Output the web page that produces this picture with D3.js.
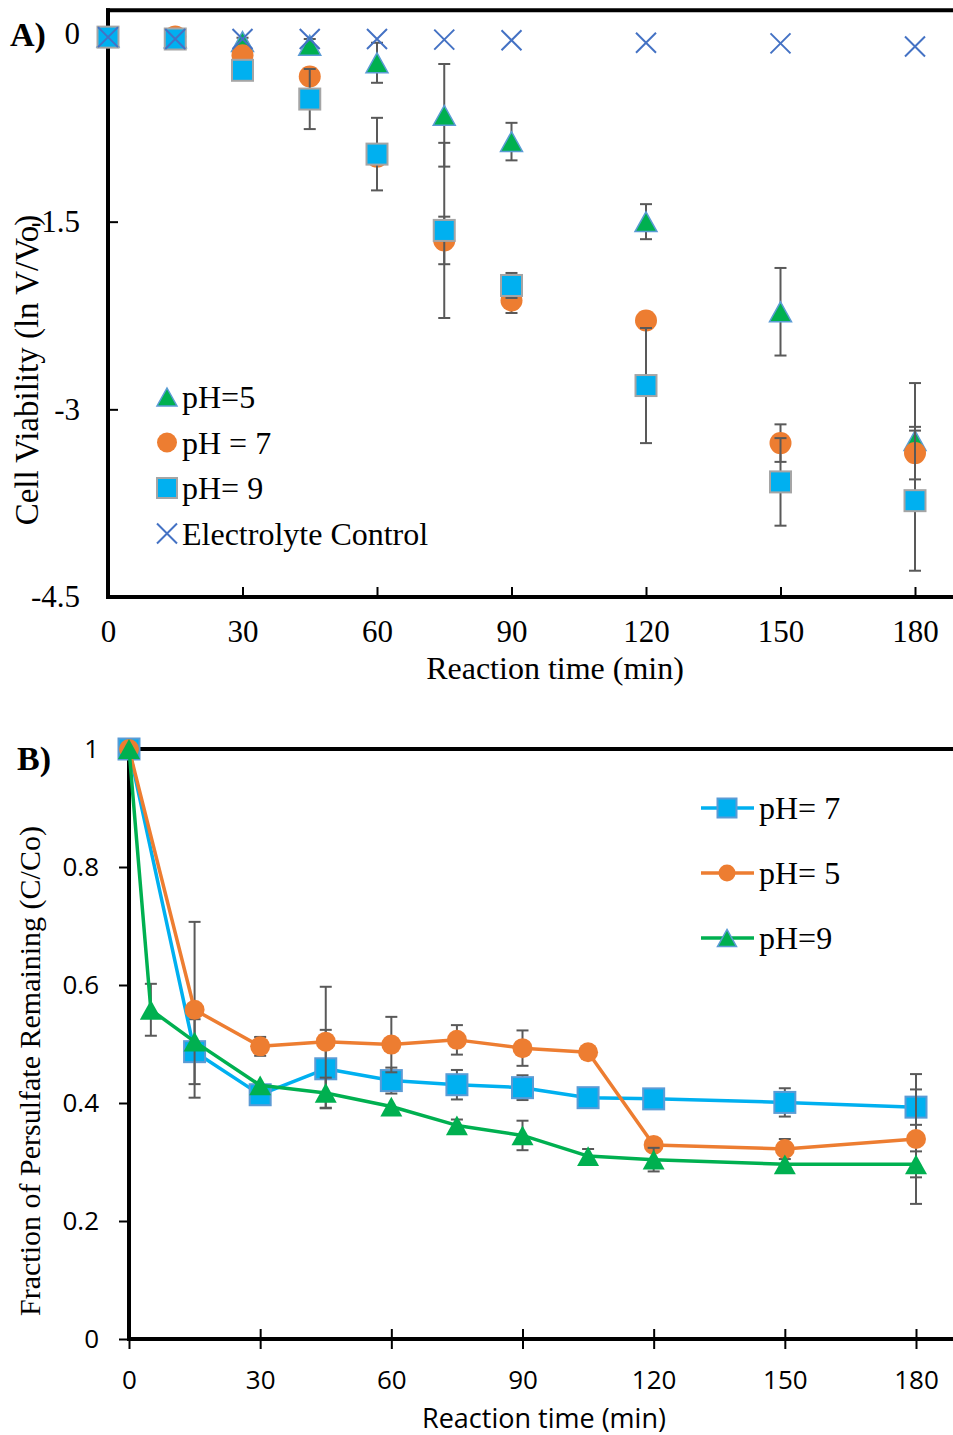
<!DOCTYPE html>
<html>
<head>
<meta charset="utf-8">
<script src="https://cdn.jsdelivr.net/npm/d3@7/dist/d3.min.js"></script>
<style>
  html, body { margin: 0; padding: 0; background: #fff; }
  svg { display: block; }
</style>
</head>
<body>
<svg id="chart" width="953" height="1435"></svg>
<script>
// ---------------- DATA: Panel A ----------------
const timesA = [0, 15, 30, 45, 60, 75, 90, 120, 150, 180];
const pH5A    = [-0.025, -0.03, -0.06, -0.09, -0.23, -0.65, -0.86, -1.50, -2.22, -3.25];
const pH5Aerr = [0, 0, 0.03, 0.05, 0.16, 0.41, 0.15, 0.14, 0.35, 0.46];
const pH7A    = [-0.025, -0.02, -0.17, -0.34, -0.98, -1.65, -2.13, -2.29, -3.27, -3.35];
const pH7Aerr = [0, 0, 0, 0, 0, 0.19, 0.10, 0, 0.15, 0.21];
const pH9A    = [-0.025, -0.04, -0.29, -0.52, -0.96, -1.57, -2.01, -2.81, -3.58, -3.73];
const pH9Aerr = [0, 0, 0, 0.24, 0.29, 0.70, 0.10, 0.46, 0.35, 0.56];
const ctrlA   = [-0.025, -0.04, -0.04, -0.04, -0.04, -0.045, -0.05, -0.07, -0.075, -0.10];
const yTicksA = [0, -1.5, -3, -4.5];
const xTicks  = [0, 30, 60, 90, 120, 150, 180];
const legendA = ["pH=5", "pH = 7", "pH= 9", "Electrolyte Control"];

// ---------------- DATA: Panel B ----------------
const timesB7 = [0, 15, 30, 45, 60, 75, 90, 105, 120, 150, 180];
const pH7B    = [1, 0.487, 0.414, 0.458, 0.438, 0.431, 0.426, 0.409, 0.407, 0.401, 0.393];
const pH7Berr = [0, 0.055, 0, 0.066, 0.022, 0.025, 0.021, 0, 0, 0.024, 0.03];
const timesB5 = [0, 15, 30, 45, 60, 75, 90, 105, 120, 150, 180];
const pH5B    = [1, 0.558, 0.496, 0.504, 0.499, 0.507, 0.493, 0.486, 0.329, 0.322, 0.339];
const pH5Berr = [0, 0.149, 0.016, 0.093, 0.047, 0.025, 0.03, 0, 0, 0.017, 0.11];
const timesB9 = [0, 5, 15, 30, 45, 60, 75, 90, 105, 120, 150, 180];
const pH9B    = [1, 0.558, 0.504, 0.43, 0.417, 0.394, 0.362, 0.345, 0.31, 0.304, 0.296, 0.296];
const pH9Berr = [0, 0.044, 0, 0, 0.026, 0, 0.01, 0.025, 0.012, 0.02, 0, 0.022];
const yTicksB = [0, 0.2, 0.4, 0.6, 0.8, 1];
const yTickLabelsB = ["0", "0.2", "0.4", "0.6", "0.8", "1"];
const legendB = ["pH= 7", "pH= 5", "pH=9"];

// ---------------- STYLE ----------------
const C = {
  blue: "#00B0F0", orange: "#ED7D31", green: "#00B050", ctrl: "#4472C4",
  sqStroke: "#A5A5A5", triStroke: "#5B9BD5", sqStrokeB: "#5B9BD5", err: "#595959"
};
const SERIF = "'Liberation Serif', 'Times New Roman', serif";
const SANS = "'Open Sans', 'Liberation Sans', sans-serif";

const svg = d3.select("#chart");

function triPath(w, h) {
  return `M0,${-h/2}L${w/2},${h/2}L${-w/2},${h/2}Z`;
}
function drawErr(g, xs, ys, errs, x, y) {
  const d = xs.map((t, i) => ({t, v: ys[i], e: errs[i]})).filter(d => d.e > 0);
  const eg = g.append("g").attr("stroke", C.err).attr("stroke-width", 2).attr("fill", "none");
  d.forEach(p => {
    const cx = x(p.t), y1 = y(p.v + p.e), y2 = y(p.v - p.e);
    eg.append("line").attr("x1", cx).attr("x2", cx).attr("y1", y1).attr("y2", y2);
    eg.append("line").attr("x1", cx - 6).attr("x2", cx + 6).attr("y1", y1).attr("y2", y1);
    eg.append("line").attr("x1", cx - 6).attr("x2", cx + 6).attr("y1", y2).attr("y2", y2);
  });
}
function markers(g, kind, xs, ys, x, y, opts) {
  const pts = xs.map((t, i) => [x(t), y(ys[i])]);
  const sel = g.append("g").selectAll("g").data(pts).join("g")
    .attr("transform", d => `translate(${d[0]},${d[1]})`);
  addMarker(sel, kind, opts);
}
function addMarker(sel, kind, o) {
  if (kind === "square") {
    sel.append("rect").attr("x", -o.s/2).attr("y", -o.s/2).attr("width", o.s).attr("height", o.s)
      .attr("fill", C.blue).attr("stroke", o.stroke).attr("stroke-width", 2);
  } else if (kind === "circle") {
    sel.append("circle").attr("r", o.s/2).attr("fill", C.orange);
  } else if (kind === "tri") {
    sel.append("path").attr("d", triPath(o.s, o.s * 0.9)).attr("fill", C.green)
      .attr("stroke", o.stroke || "none").attr("stroke-width", o.stroke ? 1.5 : 0);
  } else if (kind === "x") {
    const r = o.s/2;
    sel.append("path").attr("d", `M${-r},${-r}L${r},${r}M${-r},${r}L${r},${-r}`)
      .attr("stroke", C.ctrl).attr("stroke-width", 2).attr("fill", "none");
  }
}

// =============== PANEL A ===============
(function () {
  const xA = d3.scaleLinear().domain([0, 180]).range([108, 915]);
  const yA = d3.scaleLinear().domain([0, -4.5]).range([34, 597]);
  const g = svg.append("g");

  // top border
  g.append("line").attr("x1", xA(0) - 2).attr("x2", 953).attr("y1", yA(0.19)).attr("y2", yA(0.19))
    .attr("stroke", "#000").attr("stroke-width", 4);

  // y axis
  const ay = g.append("g").attr("transform", `translate(${xA(0)},0)`)
    .call(d3.axisLeft(yA).tickValues(yTicksA).tickSize(-10).tickSizeOuter(0).tickPadding(28)
      .tickFormat(d => String(d)));
  ay.select(".domain").remove();
  ay.selectAll(".tick line").attr("stroke", "#000").attr("stroke-width", 2);
  ay.selectAll(".tick text").attr("font-family", SERIF).attr("font-size", 31).attr("fill", "#000");
  g.append("line").attr("x1", xA(0)).attr("x2", xA(0)).attr("y1", yA(0.19) - 2).attr("y2", yA(-4.5) + 2)
    .attr("stroke", "#000").attr("stroke-width", 4);

  // x axis
  const ax = g.append("g").attr("transform", `translate(0,${yA(-4.5)})`)
    .call(d3.axisBottom(xA).tickValues(xTicks).tickSize(-10).tickSizeOuter(0).tickPadding(23)
      .tickFormat(d => String(d)));
  ax.select(".domain").remove();
  ax.selectAll(".tick line").attr("stroke", "#000").attr("stroke-width", 2);
  ax.selectAll(".tick text").attr("font-family", SERIF).attr("font-size", 31).attr("fill", "#000");
  g.append("line").attr("x1", xA(0) - 2).attr("x2", 953).attr("y1", yA(-4.5)).attr("y2", yA(-4.5))
    .attr("stroke", "#000").attr("stroke-width", 4);

  // titles
  g.append("text").attr("x", 555).attr("y", 679).attr("text-anchor", "middle")
    .attr("font-family", SERIF).attr("font-size", 32).text("Reaction time (min)");
  g.append("text").attr("transform", "translate(38,370) rotate(-90)").attr("text-anchor", "middle")
    .attr("font-family", SERIF).attr("font-size", 33).text("Cell Viability (ln V/Vo)");
  g.append("text").attr("x", 10).attr("y", 46).attr("font-family", SERIF).attr("font-size", 34)
    .attr("font-weight", "bold").text("A)");

  // error bars + markers (order: pH5, pH7, pH9, control)
  drawErr(g, timesA, pH5A, pH5Aerr, xA, yA);
  markers(g, "tri", timesA, pH5A, xA, yA, {s: 22, stroke: C.triStroke});
  drawErr(g, timesA, pH7A, pH7Aerr, xA, yA);
  markers(g, "circle", timesA, pH7A, xA, yA, {s: 22});
  drawErr(g, timesA, pH9A, pH9Aerr, xA, yA);
  markers(g, "square", timesA, pH9A, xA, yA, {s: 21, stroke: C.sqStroke});
  markers(g, "x", timesA, ctrlA, xA, yA, {s: 20});

  // legend
  const kinds = ["tri", "circle", "square", "x"];
  const lg = g.append("g");
  legendA.forEach((label, i) => {
    const yy = 397 + i * 45.5;
    const m = lg.append("g").attr("transform", `translate(167,${yy})`);
    addMarker(m, kinds[i], {s: 20, stroke: kinds[i] === "tri" ? C.triStroke : C.sqStroke});
    lg.append("text").attr("x", 182).attr("y", yy + 11).attr("font-family", SERIF)
      .attr("font-size", 32).text(label);
  });
})();

// =============== PANEL B ===============
(function () {
  const xB = d3.scaleLinear().domain([0, 180]).range([129, 916]);
  const yB = d3.scaleLinear().domain([0, 1]).range([1339, 749]);
  const g = svg.append("g");

  g.append("line").attr("x1", xB(0) - 2).attr("x2", 953).attr("y1", yB(1)).attr("y2", yB(1))
    .attr("stroke", "#000").attr("stroke-width", 4);

  const ay = g.append("g").attr("transform", `translate(${xB(0)},0)`)
    .call(d3.axisLeft(yB).tickValues(yTicksB).tickSize(10).tickSizeOuter(0).tickPadding(20)
      .tickFormat((d, i) => yTickLabelsB[i]));
  ay.select(".domain").remove();
  ay.selectAll(".tick line").attr("stroke", "#000").attr("stroke-width", 2);
  ay.selectAll(".tick text").attr("font-family", SANS).attr("font-size", 26).attr("fill", "#000");
  g.append("line").attr("x1", xB(0)).attr("x2", xB(0)).attr("y1", yB(1) - 2).attr("y2", yB(0) + 2)
    .attr("stroke", "#000").attr("stroke-width", 4);

  const ax = g.append("g").attr("transform", `translate(0,${yB(0)})`)
    .call(d3.axisBottom(xB).tickValues(xTicks).tickSize(10).tickSizeOuter(0).tickPadding(22)
      .tickFormat(d => String(d)));
  ax.select(".domain").remove();
  ax.selectAll(".tick line").attr("y1", -10).attr("stroke", "#000").attr("stroke-width", 2);
  ax.selectAll(".tick text").attr("font-family", SANS).attr("font-size", 26).attr("fill", "#000");
  g.append("line").attr("x1", xB(0) - 2).attr("x2", 953).attr("y1", yB(0)).attr("y2", yB(0))
    .attr("stroke", "#000").attr("stroke-width", 4);

  g.append("text").attr("x", 544).attr("y", 1428).attr("text-anchor", "middle")
    .attr("font-family", SANS).attr("font-size", 27).text("Reaction time (min)");
  g.append("text").attr("transform", "translate(40,1071) rotate(-90)").attr("text-anchor", "middle")
    .attr("font-family", SERIF).attr("font-size", 30).text("Fraction of Persulfate Remaining (C/Co)");
  g.append("text").attr("x", 17).attr("y", 770).attr("font-family", SERIF).attr("font-size", 34)
    .attr("font-weight", "bold").text("B)");

  const line = d3.line().x(d => xB(d[0])).y(d => yB(d[1]));
  function series(times, vals, errs, color, kind, opts) {
    drawErr(g, times, vals, errs, xB, yB);
    g.append("path").attr("d", line(times.map((t, i) => [t, vals[i]])))
      .attr("fill", "none").attr("stroke", color).attr("stroke-width", 3.5).attr("stroke-linejoin", "round");
    markers(g, kind, times, vals, xB, yB, opts);
  }
  series(timesB7, pH7B, pH7Berr, C.blue, "square", {s: 21, stroke: C.sqStrokeB});
  series(timesB5, pH5B, pH5Berr, C.orange, "circle", {s: 20});
  series(timesB9, pH9B, pH9Berr, C.green, "tri", {s: 22});

  // legend
  const kinds = ["square", "circle", "tri"];
  const cols = [C.blue, C.orange, C.green];
  legendB.forEach((label, i) => {
    const yy = 808 + i * 65;
    g.append("line").attr("x1", 701).attr("x2", 754).attr("y1", yy).attr("y2", yy)
      .attr("stroke", cols[i]).attr("stroke-width", 3.5);
    const m = g.append("g").attr("transform", `translate(727,${yy})`);
    addMarker(m, kinds[i], {s: kinds[i] === "circle" ? 17 : 19, stroke: C.sqStrokeB});
    g.append("text").attr("x", 759).attr("y", yy + 11).attr("font-family", SERIF)
      .attr("font-size", 32).text(label);
  });
})();
</script>
</body>
</html>
